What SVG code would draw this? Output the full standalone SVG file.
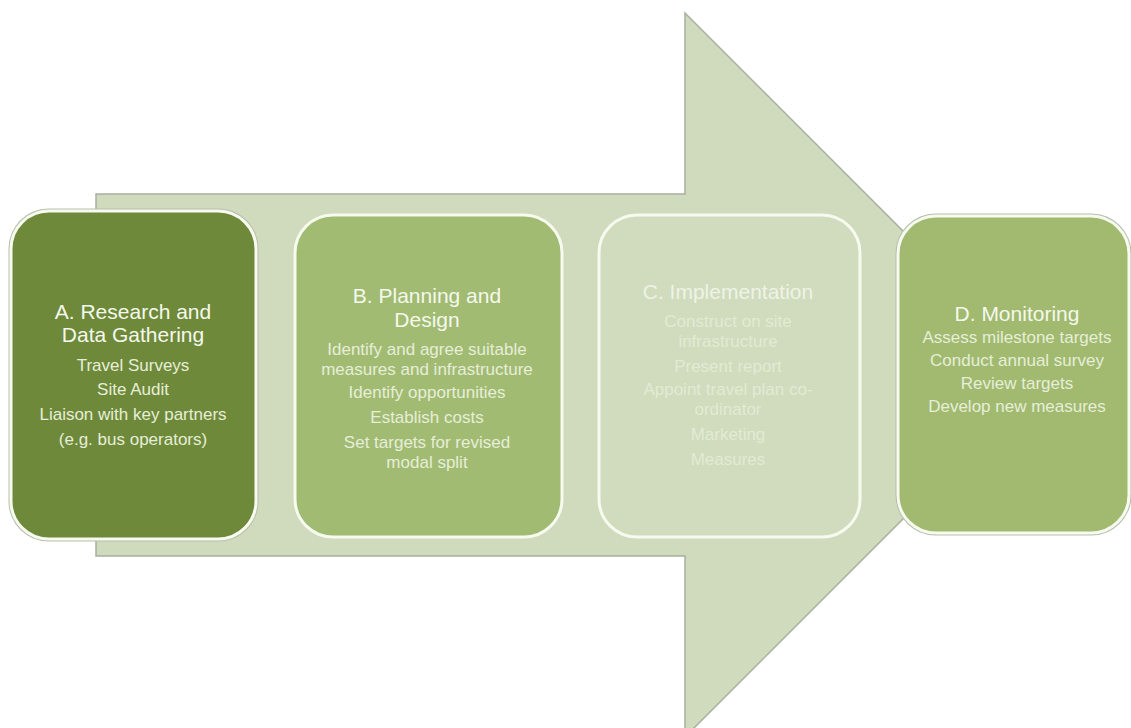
<svg xmlns="http://www.w3.org/2000/svg" width="1131" height="728" viewBox="0 0 1131 728">
<style>
.t{font-family:"Liberation Sans",Arial,sans-serif;text-anchor:middle}
.h{font-size:21px;fill:#f4f8ec}
.s{font-size:17px;fill:#e6eed8}
.hc{font-size:21px;fill:#eef3e6}
.sc{font-size:17px;fill:#e2ebd4}
.edge{fill:#b7bfad}
.box{stroke:#f7faef;stroke-width:3}
</style>
<rect width="1131" height="728" fill="#ffffff"/>
<g id="connectors">
<polygon id="arrow" points="96,194 685,194 685,13 1047,375 685,737 685,556 96,556" fill="#cfdbbc" stroke="#a8b09f" stroke-width="1.5"/>
</g>
<g id="nodeA">
<rect class="edge" x="8.5" y="208.5" width="250" height="333" rx="40"/>
<rect class="box" x="11" y="211" width="245" height="328" rx="38" fill="#6e893a"/>
<text class="t h" x="133" y="319">A. Research and</text>
<text class="t h" x="133" y="342">Data Gathering</text>
<text class="t s" x="133" y="371">Travel Surveys</text>
<text class="t s" x="133" y="395">Site Audit</text>
<text class="t s" x="133" y="420">Liaison with key partners</text>
<text class="t s" x="133" y="445">(e.g. bus operators)</text>
</g>
<g id="nodeB">
<rect class="box" x="295" y="215" width="267" height="322" rx="38" fill="#a2bb73"/>
<text class="t h" x="427" y="303">B. Planning and</text>
<text class="t h" x="427" y="327">Design</text>
<text class="t s" x="427" y="355">Identify and agree suitable</text>
<text class="t s" x="427" y="375">measures and infrastructure</text>
<text class="t s" x="427" y="398">Identify opportunities</text>
<text class="t s" x="427" y="423">Establish costs</text>
<text class="t s" x="427" y="448">Set targets for revised</text>
<text class="t s" x="427" y="468">modal split</text>
</g>
<g id="nodeC">
<rect class="box" x="599" y="215" width="261" height="322" rx="38" fill="#d0dcbd"/>
<text class="t hc" x="728" y="299">C. Implementation</text>
<text class="t sc" x="728" y="327">Construct on site</text>
<text class="t sc" x="728" y="347">infrastructure</text>
<text class="t sc" x="728" y="372">Present report</text>
<text class="t sc" x="728" y="395">Appoint travel plan co-</text>
<text class="t sc" x="728" y="415">ordinator</text>
<text class="t sc" x="728" y="440">Marketing</text>
<text class="t sc" x="728" y="465">Measures</text>
</g>
<g id="nodeD">
<rect class="edge" x="895.5" y="213.5" width="236" height="322" rx="40"/>
<rect class="box" x="898" y="216" width="231" height="317" rx="38" fill="#a1ba70"/>
<text class="t h" x="1017" y="321">D. Monitoring</text>
<text class="t s" x="1017" y="343">Assess milestone targets</text>
<text class="t s" x="1017" y="366">Conduct annual survey</text>
<text class="t s" x="1017" y="389">Review targets</text>
<text class="t s" x="1017" y="412">Develop new measures</text>
</g>
</svg>
